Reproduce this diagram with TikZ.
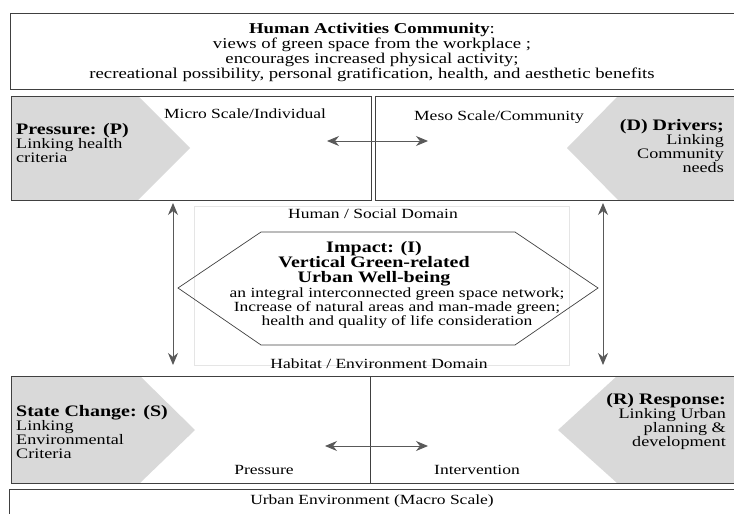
\documentclass[tikz,border=0pt]{standalone}
\usepackage{fontspec}
\setmainfont{Liberation Serif}[FakeStretch=1.25]
\usetikzlibrary{arrows.meta,positioning,calc}
\definecolor{chevgray}{HTML}{D9D9D9}
\definecolor{edgegray}{HTML}{404040}

\begin{document}
\begin{tikzpicture}[x=1pt,y=-1pt,font=\fontsize{14}{15}\selectfont,
  frame/.style={draw=edgegray,line width=1pt,anchor=north west,inner sep=0pt},
  dombox/.style={draw=black!10,line width=0.6pt},
  chev/.style={fill=chevgray},
  lbl/.style={inner sep=0pt,align=center},
  side/.style={inner sep=0pt,font=\fontsize{14.5}{14}\selectfont},
  head/.style={font=\fontsize{16}{16}\selectfont\bfseries},
  arr/.style={{Stealth[length=12pt,width=10pt]}-{Stealth[length=12pt,width=10pt]},draw=black!65,line width=0.9pt}]
\useasboundingbox (0,0) rectangle (734,514);

% gray chevrons
\fill[chev] (12,96) -- (138,96) -- (190,148) -- (138,200) -- (12,200) -- cycle;
\fill[chev] (734,96) -- (618,96) -- (567,148) -- (618,200) -- (734,200) -- cycle;
\fill[chev] (12,376) -- (140,376) -- (195,430) -- (140,483) -- (12,483) -- cycle;
\fill[chev] (734,376) -- (617,376) -- (558,430) -- (617,483) -- (734,483) -- cycle;

% frames
\node[frame,minimum width=726pt,minimum height=76pt] (community) at (10,13) {};
\node[frame,minimum width=360pt,minimum height=104pt] (pbox) at (11,96) {};
\node[frame,minimum width=362pt,minimum height=104pt] (dbox) at (375,96) {};
\node[frame,minimum width=359pt,minimum height=107pt] (sbox) at (11,376) {};
\node[frame,minimum width=366pt,minimum height=107pt] (rbox) at (370,376) {};
\node[frame,minimum width=727pt,minimum height=30pt] (urban) at (9,489) {};
\node[dombox,anchor=north west,minimum width=375pt,minimum height=159pt] (domain) at (194,206) {};

% top text
\node[lbl,font=\fontsize{15}{15}\selectfont] (commtext) at (372,52) {\textbf{Human Activities Community}:\\
  views of green space from the workplace ;\\
  encourages increased physical activity;\\
  recreational possibility, personal gratification, health, and aesthetic benefits};

% scale labels
\node[lbl] (micro) at (245,114) {Micro Scale/Individual};
\node[lbl] (meso) at (499,117) {Meso Scale/Community};
\node[lbl] (press) at (264,470) {Pressure};
\node[lbl] (interv) at (477,470) {Intervention};
\node[lbl] (human) at (373,214) {Human / Social Domain};
\node[lbl] (habitat) at (379,364) {Habitat / Environment Domain};
\node[lbl] (urbantext) at (372,501) {Urban Environment (Macro Scale)};

% DPSIR texts
\node[side,anchor=west,align=left] (ptext) at (16,143) {{\fontsize{16}{16}\selectfont\bfseries Pressure: (P)}\\Linking health\\criteria};
\node[side,anchor=east,align=right] (dtext) at (724,146) {{\fontsize{16}{16}\selectfont\bfseries (D) Drivers;}\\Linking\\Community\\needs};
\node[side,anchor=west,align=left] (stext) at (16,432) {{\fontsize{16}{16}\selectfont\bfseries State Change: (S)}\\Linking\\Environmental\\Criteria};
\node[side,anchor=east,align=right] (rtext) at (726,421) {{\fontsize{16}{16}\selectfont\bfseries (R) Response:}\\Linking Urban\\planning \&\\development};

% impact hexagon
\draw[edgegray,line width=0.7pt] (178,288) -- (261,232) -- (515,232) -- (598,288) -- (515,345) -- (261,345) -- cycle;
\node[lbl,head,font=\fontsize{16}{15}\selectfont\bfseries] (impact) at (374,264) {Impact: (I)\\Vertical Green-related\\Urban Well-being};
\node[lbl,font=\fontsize{14}{10.5}\selectfont] (impacttext) at (397,308) {an integral interconnected green space network;\\
  Increase of natural areas and man-made green;\\
  health and quality of life consideration};

% arrows
\coordinate (pm) at (327,141);
\coordinate (dm) at (428,141);
\coordinate (sm) at (325,446);
\coordinate (rm) at (428,446);
\coordinate (lt) at (173,203);
\coordinate (lb) at (173,365);
\coordinate (rt) at (603,203);
\coordinate (rb) at (603,365);
\draw[arr] (pm) -- (dm);
\draw[arr] (sm) -- (rm);
\draw[arr] (lt) -- (lb);
\draw[arr] (rt) -- (rb);
\end{tikzpicture}
\end{document}
